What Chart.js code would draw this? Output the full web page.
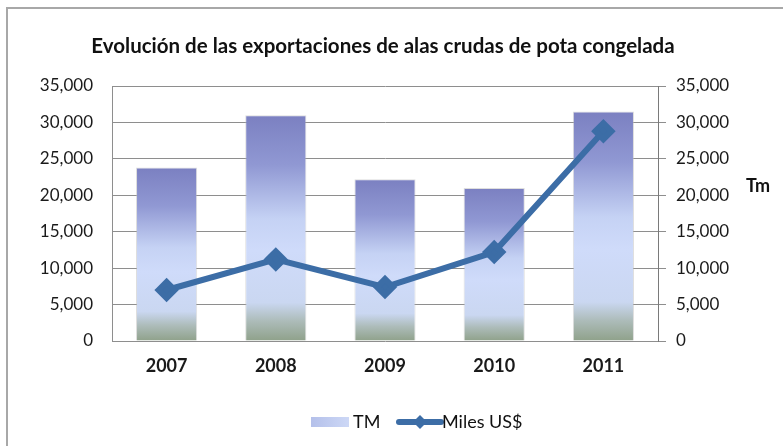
<!DOCTYPE html>
<html>
<head>
<meta charset="utf-8">
<script src="https://cdn.jsdelivr.net/npm/chart.js@4"></script>
<style>
  html, body { margin: 0; padding: 0; background: #fff; }
  #wrap { width: 783px; height: 446px; }
</style>
</head>
<body>
<div id="wrap"><canvas id="chart" width="783" height="446"></canvas></div>
<script>
// data
const years = ['2007', '2008', '2009', '2010', '2011'];
const tmValues = [23800, 31000, 22200, 21000, 31500];
const milesUSValues = [7000, 11200, 7400, 12200, 28800];
const axisTicks = [0, 5000, 10000, 15000, 20000, 25000, 30000, 35000];

const titleText = 'Evolución de las exportaciones de alas crudas de pota congelada';
const lineColor = '#3C6DA6';
const gridColor = '#8e8e8e';
const fontFamily = 'Lato, "Liberation Sans", sans-serif';

const fmt = v => Number(v).toLocaleString('en-US');

// per bar vertical gradient, purple on top, pale blue middle, grey green foot
const barFill = (ctx) => {
    const chart = ctx.chart;
    if (!chart.chartArea || ctx.dataIndex === undefined) return '#c8d4f6';
    const y = chart.scales.y;
    const top = y.getPixelForValue(tmValues[ctx.dataIndex]);
    const bottom = y.getPixelForValue(0);
    const g = chart.ctx.createLinearGradient(0, top, 0, bottom);
    g.addColorStop(0, '#7b80c1');
    g.addColorStop(0.22, '#9098d3');
    g.addColorStop(0.46, '#c5d2f4');
    g.addColorStop(0.6, '#cfdbfa');
    g.addColorStop(0.83, '#cad7f1');
    g.addColorStop(0.91, '#adbcba');
    g.addColorStop(1, '#8fa18a');
    return g;
};

const extras = {
    id: 'extras',
    afterDraw(chart) {
        const c = chart.ctx;
        c.save();
        // outer frame (only top and left edges show)
        c.strokeStyle = '#a8a8a8';
        c.lineWidth = 2;
        c.beginPath();
        c.moveTo(7, 446);
        c.lineTo(7, 8);
        c.lineTo(783, 8);
        c.stroke();

        c.fillStyle = '#111';
        c.textBaseline = 'middle';
        c.textAlign = 'center';
        c.font = 'bold 20.5px ' + fontFamily;
        c.fillText(titleText, 383, 46);

        c.font = 'bold 18px ' + fontFamily;
        c.textAlign = 'left';
        c.fillText('Tm', 746, 186);

        // legend
        const ly = 422;
        const lg = c.createLinearGradient(311, 0, 349, 0);
        lg.addColorStop(0, '#b4c0ea');
        lg.addColorStop(1, '#cdd8f6');
        c.fillStyle = lg;
        c.fillRect(311, ly - 5, 38, 10);
        c.fillStyle = '#111';
        c.font = '18px ' + fontFamily;
        c.fillText('TM', 353, ly);

        c.strokeStyle = lineColor;
        c.lineWidth = 6;
        c.lineCap = 'round';
        c.beginPath();
        c.moveTo(399, ly);
        c.lineTo(441, ly);
        c.stroke();
        c.fillStyle = lineColor;
        c.beginPath();
        c.moveTo(420, ly - 7);
        c.lineTo(427, ly);
        c.lineTo(420, ly + 7);
        c.lineTo(413, ly);
        c.closePath();
        c.fill();
        c.fillStyle = '#111';
        c.fillText('Miles US$', 442, ly);
        c.restore();
    }
};

new Chart(document.getElementById('chart'), {
    data: {
        labels: years,
        datasets: [
            {
                type: 'line',
                label: 'Miles US$',
                data: milesUSValues,
                yAxisID: 'y',
                borderColor: lineColor,
                backgroundColor: lineColor,
                borderWidth: 6,
                pointStyle: 'rectRot',
                pointRadius: 8,
                pointHoverRadius: 8,
                tension: 0,
                order: 0
            },
            {
                type: 'bar',
                label: 'TM',
                data: tmValues,
                yAxisID: 'y',
                backgroundColor: barFill,
                borderColor: 'rgba(190,190,190,0.5)',
                borderWidth: 1,
                barPercentage: 0.56,
                categoryPercentage: 1,
                order: 1
            }
        ]
    },
    options: {
        responsive: false,
        animation: false,
        devicePixelRatio: 1,
        layout: { padding: { top: 86, left: 0, right: 0, bottom: 0 } },
        plugins: {
            legend: { display: false },
            title: { display: false },
            tooltip: { enabled: false }
        },
        scales: {
            x: {
                grid: { display: false, drawTicks: false },
                border: { display: false },
                ticks: {
                    padding: 14,
                    color: '#1a1a1a',
                    font: { family: fontFamily, size: 18, weight: 'bold' }
                },
                afterFit: s => { s.height = 105; }
            },
            y: {
                position: 'left',
                min: 0,
                max: 35000,
                afterBuildTicks: s => { s.ticks = axisTicks.map(v => ({ value: v })); },
                grid: { color: gridColor, drawTicks: false },
                border: { color: gridColor },
                ticks: {
                    padding: 19,
                    color: '#1a1a1a',
                    font: { family: fontFamily, size: 17 },
                    callback: fmt
                },
                afterFit: s => { s.width = 112; }
            },
            y2: {
                position: 'right',
                min: 0,
                max: 35000,
                afterBuildTicks: s => { s.ticks = axisTicks.map(v => ({ value: v })); },
                grid: { drawOnChartArea: false, color: gridColor, tickLength: 8 },
                border: { color: '#7a7a7a' },
                ticks: {
                    padding: 10,
                    color: '#1a1a1a',
                    font: { family: fontFamily, size: 17 },
                    callback: fmt
                },
                afterFit: s => { s.width = 125; }
            }
        }
    },
    plugins: [extras]
});
</script>
</body>
</html>
